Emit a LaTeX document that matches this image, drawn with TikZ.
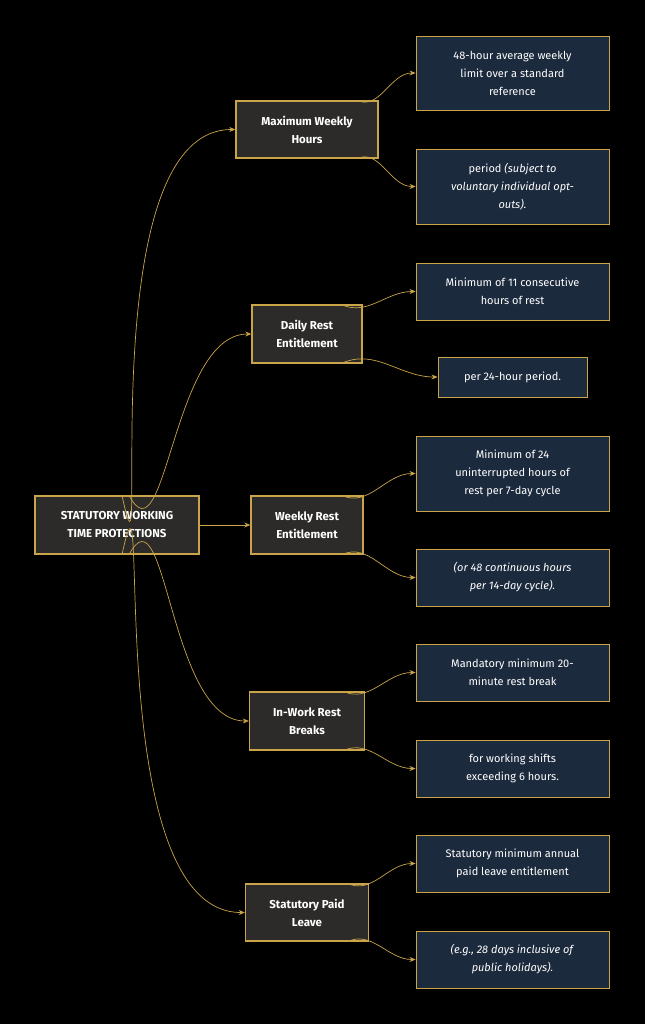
\documentclass[tikz,border=0pt]{standalone}
\usepackage{fontspec}
\setmainfont{Fira Sans}
\usetikzlibrary{arrows.meta}
\definecolor{gold}{HTML}{C9A449}
\definecolor{midfill}{HTML}{2C2B29}
\definecolor{leaffill}{HTML}{1C2A3D}
\tikzset{
  hub/.style={draw=gold, line width=1.4pt, fill=midfill, text=white, align=center, font=\fontsize{11.5}{18}\selectfont\bfseries, inner sep=0pt},
  leaf/.style={draw=gold, line width=0.9pt, fill=leaffill, text=white, align=center, font=\fontsize{11}{18}\selectfont, inner sep=0pt, minimum width=193pt},
  link/.style={draw=gold, line width=0.7pt, -{Stealth[length=6pt,width=5pt]}}
}
\begin{document}
\begin{tikzpicture}[x=1pt,y=-1pt]
\fill[black] (0,0) rectangle (645,1024);
\useasboundingbox (0,0) rectangle (645,1024);
% hubs
\node [hub, minimum width=164pt, minimum height=58pt] (root) at (117,525) {STATUTORY WORKING\\TIME PROTECTIONS};
\node [hub, minimum width=142pt, minimum height=57pt] (maxw) at (307,129.5) {Maximum Weekly\\Hours};
\node [hub, minimum width=110pt, minimum height=58pt] (daily) at (307,334) {Daily Rest\\Entitlement};
\node [hub, minimum width=112pt, minimum height=58pt] (weekly) at (307,525) {Weekly Rest\\Entitlement};
\node [hub, minimum width=115pt, minimum height=58pt] (inwork) at (307,721) {In-Work Rest\\Breaks};
\node [hub, minimum width=123pt, minimum height=57pt] (paid) at (307,912.5) {Statutory Paid\\Leave};
% leaves
\node [leaf, minimum height=74pt] (maxa) at (512.5,73) {48-hour average weekly\\limit over a standard\\reference};
\node [leaf, minimum height=75pt] (maxb) at (512.5,186.5) {period \textit{(subject to}\\\textit{voluntary individual opt-}\\\textit{outs).}};
\node [leaf, minimum height=57pt] (dailya) at (512.5,291.5) {Minimum of 11 consecutive\\hours of rest};
\node [leaf, minimum width=149pt, minimum height=40pt] (dailyb) at (512.5,377) {per 24-hour period.};
\node [leaf, minimum height=75pt] (weeklya) at (512.5,473.5) {Minimum of 24\\uninterrupted hours of\\rest per 7-day cycle};
\node [leaf, minimum height=57pt] (weeklyb) at (512.5,577.5) {\textit{(or 48 continuous hours}\\\textit{per 14-day cycle).}};
\node [leaf, minimum height=57pt] (inworka) at (512.5,672.5) {Mandatory minimum 20-\\minute rest break};
\node [leaf, minimum height=57pt] (inworkb) at (512.5,768.5) {for working shifts\\exceeding 6 hours.};
\node [leaf, minimum height=57pt] (paida) at (512.5,863.5) {Statutory minimum annual\\paid leave entitlement};
\node [leaf, minimum height=57pt] (paidb) at (512.5,959.5) {\textit{(e.g., 28 days inclusive of}\\\textit{public holidays).}};
% root to hubs
\draw [link] ([xshift=5pt]root.north) to[out=-78, in=180] (maxw.west);
\draw [link] ([xshift=12pt]root.north) to[out=-62, in=180] (daily.west);
\draw [link] (root.east) -- (weekly.west);
\draw [link] ([xshift=12pt]root.south) to[out=62, in=180] (inwork.west);
\draw [link] ([xshift=5pt]root.south) to[out=78, in=180] (paid.west);
% hubs to leaves
\foreach \h/\a/\b in {maxw/maxa/maxb, daily/dailya/dailyb, weekly/weeklya/weeklyb, inwork/inworka/inworkb, paid/paida/paidb} {
  \draw [link] ([xshift=-22pt]\h.north east) to[out=-25, in=180] (\a.west);
  \draw [link] ([xshift=-22pt]\h.south east) to[out=25, in=180] (\b.west);
}
\end{tikzpicture}
\end{document}
